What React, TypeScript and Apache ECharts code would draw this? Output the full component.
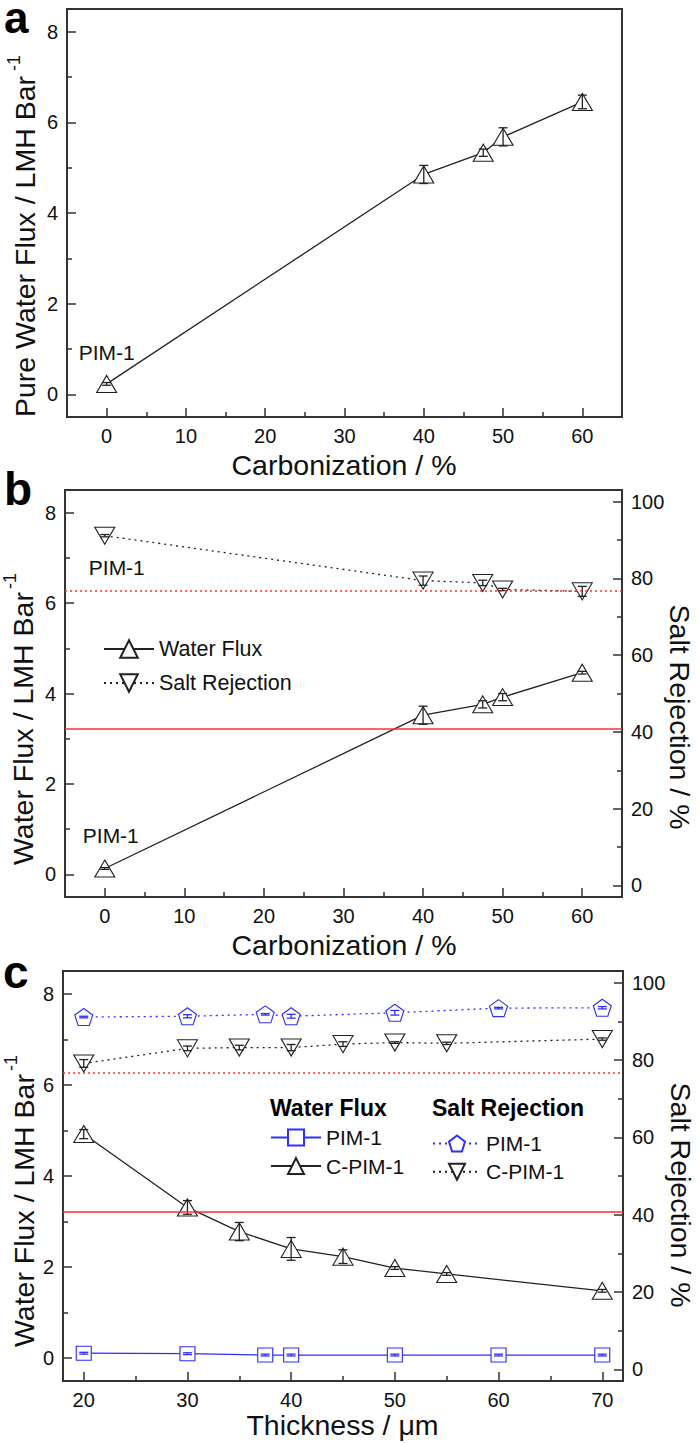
import React, { useEffect, useRef } from "react";
import * as echarts from "echarts";

// ---------- data ----------
// Panel a: pure water flux vs carbonization
const carbA = [0, 40, 47.5, 50, 60];
const fluxA = [0.23, 4.85, 5.33, 5.68, 6.45];
const fluxAErr = [0.03, 0.2, 0.08, 0.2, 0.15];

// Panel b: water flux & salt rejection vs carbonization
const carbB = [0, 40, 47.5, 50, 60];
const fluxB = [0.13, 3.52, 3.76, 3.92, 4.46];
const fluxBErr = [0.02, 0.2, 0.08, 0.08, 0.03];
const rejB = [91.1, 79.4, 78.8, 77.1, 76.6];
const rejBErr = [0.3, 1.2, 0.7, 0.3, 1.3];

// Panel c: vs thickness
const thickPIM = [20, 30, 37.5, 40, 50, 60, 70];
const fluxPIM = [0.11, 0.1, 0.07, 0.07, 0.07, 0.07, 0.07];
const fluxPIMErr = [0.02, 0.02, 0.02, 0.02, 0.02, 0.02, 0.02];
const rejPIM = [91.1, 91.3, 91.8, 91.3, 92.2, 93.4, 93.5];
const rejPIMErr = [0.2, 0.4, 0.2, 0.5, 0.6, 0.2, 0.3];

const thickC = [20, 30, 35, 40, 45, 50, 55, 70];
const fluxC = [4.92, 3.31, 2.78, 2.4, 2.23, 1.98, 1.85, 1.48];
const fluxCErr = [0.1, 0.15, 0.2, 0.25, 0.15, 0.03, 0.03, 0.03];
const rejC = [79.1, 83.0, 83.2, 83.2, 84.1, 84.5, 84.3, 85.4];
const rejCErr = [1.0, 0.6, 0.6, 0.8, 0.6, 0.2, 0.3, 0.3];

// reference lines
const refFlux = 3.22;
const refRejection = 76.7;

// ticks
const carbTicks = [0, 10, 20, 30, 40, 50, 60];
const carbMinor = [5, 15, 25, 35, 45, 55];
const thickTicks = [20, 30, 40, 50, 60, 70];
const thickMinor = [25, 35, 45, 55, 65];
const fluxTicks = [0, 2, 4, 6, 8];
const fluxMinor = [1, 3, 5, 7];
const rejTicks = [0, 20, 40, 60, 80, 100];
const rejMinor = [10, 30, 50, 70, 90];

// ---------- styles ----------
const FONT = "'Liberation Sans', Arial, Helvetica, sans-serif";
const INK = "#111";
const BOX = "#333";
const BLACK = "#222";
const BLUE = "#2f2fff";
const RED = "#ff3030";

const zip = (xs: number[], ys: number[]) => xs.map((x, i) => [x, ys[i]]);
const errData = (xs: number[], ys: number[], es: number[]) =>
  xs.map((x, i) => [x, ys[i] - es[i], ys[i] + es[i]]);

function majorAxis(grid: number, min: number, max: number, ticks: number[], position: string) {
  return {
    type: "value",
    gridIndex: grid,
    min,
    max,
    position,
    axisLine: { show: false, onZero: false },
    splitLine: { show: false },
    axisTick: { show: true, inside: true, length: 9, customValues: ticks, lineStyle: { color: BOX, width: 1.5 } },
    axisLabel: { show: true, customValues: ticks, margin: 9, fontSize: 20, color: INK, fontFamily: FONT },
  };
}
function minorAxis(grid: number, min: number, max: number, ticks: number[], position: string) {
  return {
    type: "value",
    gridIndex: grid,
    min,
    max,
    position,
    axisLine: { show: false, onZero: false },
    splitLine: { show: false },
    axisTick: { show: true, inside: true, length: 5, customValues: ticks, lineStyle: { color: BOX, width: 1.5 } },
    axisLabel: { show: false },
  };
}

function errSeries(name: string, xi: number, yi: number, data: number[][], color: string) {
  return {
    type: "custom",
    name,
    xAxisIndex: xi,
    yAxisIndex: yi,
    z: 4,
    silent: true,
    encode: { x: 0, y: [1, 2] },
    data,
    renderItem: (params: any, api: any) => {
      const x = api.value(0);
      const lo = api.coord([x, api.value(1)]);
      const hi = api.coord([x, api.value(2)]);
      const w = 4.5;
      const style = { stroke: color, lineWidth: 1.3 };
      return {
        type: "group",
        children: [
          { type: "line", shape: { x1: lo[0], y1: lo[1], x2: hi[0], y2: hi[1] }, style },
          { type: "line", shape: { x1: lo[0] - w, y1: lo[1], x2: lo[0] + w, y2: lo[1] }, style },
          { type: "line", shape: { x1: hi[0] - w, y1: hi[1], x2: hi[0] + w, y2: hi[1] }, style },
        ],
      };
    },
  };
}

function lineSeries(o: any) {
  const color = o.color || BLACK;
  return {
    type: "line",
    name: o.name,
    xAxisIndex: o.xi,
    yAxisIndex: o.yi,
    data: o.data,
    z: 3,
    silent: true,
    symbol: o.symbol,
    symbolSize: o.symbolSize,
    symbolRotate: o.rotate || 0,
    itemStyle: { color: "#fff", borderColor: color, borderWidth: 1.1 },
    lineStyle: { color, width: 1.3, type: o.dotted ? [2, 4] : "solid" },
    emphasis: { disabled: true },
    markLine: o.markLine,
  };
}

const labelStyle = { fontSize: 21, color: INK, fontFamily: FONT };
const PENTAGON = "path://M0,-10 L9.51,-3.09 L5.88,8.09 L-5.88,8.09 L-9.51,-3.09 Z";

const legendNames: Record<string, string> = {
  "Water Flux": "Water Flux",
  "Salt Rejection": "Salt Rejection",
  "Water Flux PIM-1": "PIM-1",
  "Water Flux C-PIM-1": "C-PIM-1",
  "Salt Rejection PIM-1": "PIM-1",
  "Salt Rejection C-PIM-1": "C-PIM-1",
};

function refLine(value: number, dotted: boolean) {
  return {
    silent: true,
    symbol: "none",
    label: { show: false },
    lineStyle: { color: RED, width: 1.5, type: dotted ? [2, 3] : "solid" },
    data: [{ yAxis: value }],
  };
}

function vTitle(x: number, y: number, main: string, supX: number, supY: number) {
  return [
    {
      type: "text",
      x,
      y,
      rotation: Math.PI / 2,
      style: { text: main, align: "left", verticalAlign: "middle", fontSize: 28.5, fill: INK, fontFamily: FONT },
    },
    {
      type: "text",
      x: supX,
      y: supY,
      rotation: Math.PI / 2,
      style: { text: "-1", align: "left", verticalAlign: "middle", fontSize: 18, fill: INK, fontFamily: FONT },
    },
  ];
}
function rTitle(x: number, y: number, text: string) {
  return {
    type: "text",
    x,
    y,
    rotation: -Math.PI / 2,
    style: { text, align: "center", verticalAlign: "middle", fontSize: 28.5, fill: INK, fontFamily: FONT },
  };
}
function hTitle(x: number, y: number, text: string) {
  return {
    type: "text",
    x,
    y,
    style: { text, align: "center", verticalAlign: "middle", fontSize: 28.5, fill: INK, fontFamily: FONT },
  };
}
function boldText(x: number, y: number, text: string, size: number) {
  return {
    type: "text",
    x,
    y,
    style: { text, align: "left", verticalAlign: "middle", fontSize: size, fontWeight: "bold", fill: "#000", fontFamily: FONT },
  };
}

export default function App() {
  const ref = useRef<HTMLDivElement>(null);
  useEffect(() => {
    if (!ref.current) return;
    const chart = echarts.init(ref.current, undefined, { renderer: "svg" });

    const gridStyle = { show: true, borderColor: BOX, borderWidth: 2, backgroundColor: "transparent" };
    const legendBase = {
      orient: "vertical",
      padding: 0,
      selectedMode: false,
      formatter: (n: string) => legendNames[n] || n,
    };
    const option: any = {
      animation: false,
      textStyle: { fontFamily: FONT },
      grid: [
        { left: 67, top: 9, width: 555, height: 408, ...gridStyle },
        { left: 65, top: 490, width: 557, height: 407, ...gridStyle },
        { left: 63, top: 971, width: 560, height: 410, ...gridStyle },
      ],
      xAxis: [
        majorAxis(0, -5, 65, carbTicks, "bottom"),
        minorAxis(0, -5, 65, carbMinor, "bottom"),
        majorAxis(1, -5, 65, carbTicks, "bottom"),
        minorAxis(1, -5, 65, carbMinor, "bottom"),
        majorAxis(2, 18, 72, thickTicks, "bottom"),
        minorAxis(2, 18, 72, thickMinor, "bottom"),
      ],
      yAxis: [
        majorAxis(0, -0.5, 8.5, fluxTicks, "left"),
        minorAxis(0, -0.5, 8.5, fluxMinor, "left"),
        majorAxis(1, -0.5, 8.5, fluxTicks, "left"),
        minorAxis(1, -0.5, 8.5, fluxMinor, "left"),
        majorAxis(1, -3, 103, rejTicks, "right"),
        minorAxis(1, -3, 103, rejMinor, "right"),
        majorAxis(2, -0.5, 8.5, fluxTicks, "left"),
        minorAxis(2, -0.5, 8.5, fluxMinor, "left"),
        majorAxis(2, -3, 103, rejTicks, "right"),
        minorAxis(2, -3, 103, rejMinor, "right"),
      ],
      legend: [
        {
          ...legendBase,
          data: ["Water Flux", "Salt Rejection"],
          left: 103,
          top: 638,
          itemWidth: 50,
          itemHeight: 22,
          itemGap: 12,
          textStyle: { fontSize: 21.5, color: INK, fontFamily: FONT },
        },
        {
          ...legendBase,
          data: ["Water Flux PIM-1", "Water Flux C-PIM-1"],
          left: 270,
          top: 1127,
          itemWidth: 50,
          itemHeight: 20,
          itemGap: 7.6,
          textStyle: { fontSize: 21, color: INK, fontFamily: FONT },
        },
        {
          ...legendBase,
          data: ["Salt Rejection PIM-1", "Salt Rejection C-PIM-1"],
          left: 432,
          top: 1133,
          itemWidth: 48,
          itemHeight: 20,
          itemGap: 7.3,
          textStyle: { fontSize: 21, color: INK, fontFamily: FONT },
        },
      ],
      series: [
        // ----- panel a -----
        lineSeries({
          name: "Pure Water Flux",
          xi: 0,
          yi: 0,
          symbol: "triangle",
          symbolSize: [20, 17],
          data: zip(carbA, fluxA).map((v, i) =>
            i === 0
              ? { value: v, label: { show: true, position: "top", distance: 12, formatter: "PIM-1", ...labelStyle } }
              : v
          ),
        }),
        errSeries("errA", 0, 0, errData(carbA, fluxA, fluxAErr), BLACK),
        // ----- panel b -----
        lineSeries({
          name: "Water Flux",
          xi: 2,
          yi: 2,
          symbol: "triangle",
          symbolSize: [20, 17],
          data: zip(carbB, fluxB).map((v, i) =>
            i === 0
              ? { value: v, label: { show: true, position: "top", distance: 14, offset: [6, 0], formatter: "PIM-1", ...labelStyle } }
              : v
          ),
          markLine: refLine(refFlux, false),
        }),
        lineSeries({
          name: "Salt Rejection",
          xi: 2,
          yi: 4,
          symbol: "triangle",
          rotate: 180,
          symbolSize: [20, 17],
          dotted: true,
          data: zip(carbB, rejB).map((v, i) =>
            i === 0
              ? { value: v, label: { show: true, position: "bottom", distance: 12, offset: [12, 0], formatter: "PIM-1", ...labelStyle } }
              : v
          ),
          markLine: refLine(refRejection, true),
        }),
        errSeries("errBf", 2, 2, errData(carbB, fluxB, fluxBErr), BLACK),
        errSeries("errBr", 2, 4, errData(carbB, rejB, rejBErr), BLACK),
        // ----- panel c -----
        lineSeries({
          name: "Water Flux PIM-1",
          xi: 4,
          yi: 6,
          symbol: "rect",
          symbolSize: [15, 14],
          color: BLUE,
          data: zip(thickPIM, fluxPIM),
          markLine: refLine(refFlux, false),
        }),
        lineSeries({
          name: "Water Flux C-PIM-1",
          xi: 4,
          yi: 6,
          symbol: "triangle",
          symbolSize: [20, 17],
          data: zip(thickC, fluxC),
        }),
        lineSeries({
          name: "Salt Rejection PIM-1",
          xi: 4,
          yi: 8,
          symbol: PENTAGON,
          symbolSize: [18, 17],
          color: BLUE,
          dotted: true,
          data: zip(thickPIM, rejPIM),
          markLine: refLine(refRejection, true),
        }),
        lineSeries({
          name: "Salt Rejection C-PIM-1",
          xi: 4,
          yi: 8,
          symbol: "triangle",
          rotate: 180,
          symbolSize: [20, 17],
          dotted: true,
          data: zip(thickC, rejC),
        }),
        errSeries("errCf1", 4, 6, errData(thickPIM, fluxPIM, fluxPIMErr), BLUE),
        errSeries("errCf2", 4, 6, errData(thickC, fluxC, fluxCErr), BLACK),
        errSeries("errCr1", 4, 8, errData(thickPIM, rejPIM, rejPIMErr), BLUE),
        errSeries("errCr2", 4, 8, errData(thickC, rejC, rejCErr), BLACK),
      ],
      graphic: [
        boldText(4, 17, "a", 44),
        boldText(4, 489, "b", 46),
        boldText(3, 972, "c", 46),
        boldText(270, 1108, "Water Flux", 23),
        boldText(432, 1108, "Salt Rejection", 23),
        ...vTitle(25, 417, "Pure Water Flux / LMH Bar", 14, 71),
        ...vTitle(23, 865, "Water Flux / LMH Bar", 10, 589),
        ...vTitle(24, 1347, "Water Flux / LMH Bar", 11, 1071),
        hTitle(344, 465, "Carbonization / %"),
        hTitle(344, 945, "Carbonization / %"),
        hTitle(342.5, 1425, "Thickness / μm"),
        rTitle(680, 717, "Salt Rejection / %"),
        rTitle(680.5, 1195, "Salt Rejection / %"),
      ],
    };
    chart.setOption(option);
    return () => chart.dispose();
  }, []);
  return <div ref={ref} style={{ position: "absolute", left: 0, top: 0, width: 700, height: 1443 }} />;
}
